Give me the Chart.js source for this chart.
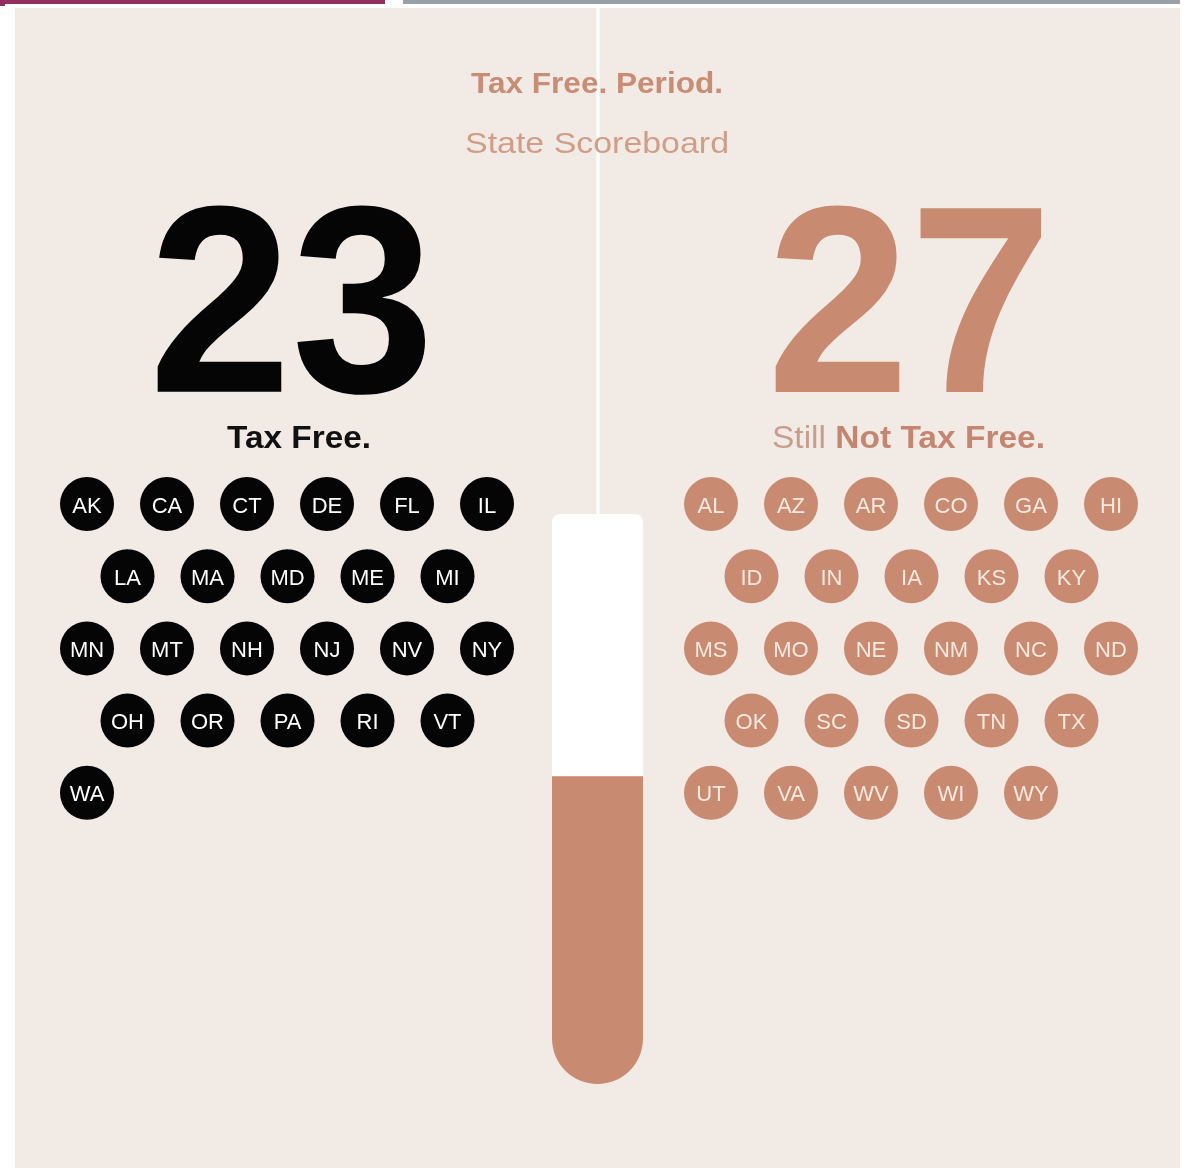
<!DOCTYPE html>
<html>
<head>
<meta charset="utf-8">
<script src="https://cdn.jsdelivr.net/npm/chart.js@4/dist/chart.umd.min.js"></script>
<style>
  html, body { margin: 0; padding: 0; background: #fff; }
  #wrap { position: relative; width: 1193px; height: 1168px; overflow: hidden; }
  .bar1 { position: absolute; left: 0; top: 0; width: 385px; height: 4px; background: #932f5f; }
  .bar1b { position: absolute; left: 0; top: 4px; width: 5px; height: 2px; background: #932f5f; }
  .bar2 { position: absolute; left: 403px; top: 0; width: 777px; height: 4px; background: #99a0a8; }
  .panel { position: absolute; left: 15px; top: 8px; width: 1165px; height: 1160px; background: #f2ebe5; }
  #main { position: absolute; left: 0; top: 0; }
  #thermo { position: absolute; left: 552px; top: 514px; }
</style>
</head>
<body>
<div id="wrap">
  <div class="bar1"></div><div class="bar1b"></div><div class="bar2"></div>
  <div class="panel"></div>
  <canvas id="main" width="1193" height="1168"></canvas>
  <canvas id="thermo" width="91" height="570"></canvas>
</div>
<script>
// data
const taxFreeStates = ['AK', 'CA', 'CT', 'DE', 'FL', 'IL', 'LA', 'MA', 'MD', 'ME', 'MI',
  'MN', 'MT', 'NH', 'NJ', 'NV', 'NY', 'OH', 'OR', 'PA', 'RI', 'VT', 'WA'];
const notTaxFreeStates = ['AL', 'AZ', 'AR', 'CO', 'GA', 'HI', 'ID', 'IN', 'IA', 'KS', 'KY',
  'MS', 'MO', 'NE', 'NM', 'NC', 'ND', 'OK', 'SC', 'SD', 'TN', 'TX', 'UT', 'VA', 'WV', 'WI', 'WY'];
const title = 'Tax Free. Period.';
const subtitle = 'State Scoreboard';
const counts = [taxFreeStates.length, notTaxFreeStates.length];

const BLACK = '#050505';
const SALMON = '#c88a70';

// rows of 6, then 5 shifted half a step
function gridPoints(states, x0) {
  const pts = [];
  let row = 0, col = 0;
  states.forEach(s => {
    const cap = row % 2 === 0 ? 6 : 5;
    const off = row % 2 === 0 ? 0 : 40.5;
    pts.push({ x: x0 + off + col * 80, y: 504 + row * 72.2, state: s });
    col++;
    if (col >= cap) { col = 0; row++; }
  });
  return pts;
}

function fitText(ctx, text, cx, baseline, width) {
  const w = ctx.measureText(text).width;
  ctx.save();
  ctx.translate(cx, baseline);
  ctx.scale(width / w, 1);
  ctx.textAlign = 'center';
  ctx.fillText(text, 0, 0);
  ctx.restore();
}

// stretch the ink of a text into a box
function fitBox(ctx, text, left, top, right, bottom) {
  ctx.save();
  ctx.textAlign = 'left';
  ctx.textBaseline = 'alphabetic';
  const m = ctx.measureText(text);
  const w = m.actualBoundingBoxLeft + m.actualBoundingBoxRight;
  const h = m.actualBoundingBoxAscent + m.actualBoundingBoxDescent;
  const sx = (right - left) / w, sy = (bottom - top) / h;
  ctx.translate(left + sx * m.actualBoundingBoxLeft, top + sy * m.actualBoundingBoxAscent);
  ctx.scale(sx, sy);
  ctx.fillText(text, 0, 0);
  ctx.restore();
}

const textPlugin = {
  id: 'scoreText',
  beforeDatasetsDraw(chart) {
    const ctx = chart.ctx;
    ctx.save();
    ctx.fillStyle = '#ffffff';
    ctx.fillRect(596.5, 8, 3, 508);
    ctx.restore();
  },
  afterDatasetsDraw(chart) {
    const ctx = chart.ctx;
    ctx.save();
    // titles
    ctx.fillStyle = '#c98c74';
    ctx.font = 'bold 30px "Liberation Sans"';
    fitText(ctx, title, 597, 93, 252);
    ctx.fillStyle = '#cf9d88';
    ctx.font = '30px "Liberation Sans"';
    fitText(ctx, subtitle, 597, 153, 264);

    // big counts
    ctx.font = 'bold 250px "Liberation Sans"';
    ctx.fillStyle = BLACK;
    fitBox(ctx, String(counts[0]), 157, 205, 425, 395);
    ctx.fillStyle = SALMON;
    fitBox(ctx, String(counts[1]), 775, 205, 1042, 393);

    // group labels
    ctx.fillStyle = '#111';
    ctx.font = 'bold 32px "Liberation Sans"';
    fitText(ctx, 'Tax Free.', 299, 448, 144);

    const a = 'Still ', b = 'Not Tax Free.';
    ctx.font = '32px "Liberation Sans"';
    const wa = ctx.measureText(a).width;
    ctx.font = 'bold 32px "Liberation Sans"';
    const wb = ctx.measureText(b).width;
    const k = 273 / (wa + wb);
    ctx.save();
    ctx.translate(772, 448);
    ctx.scale(k, 1);
    ctx.textAlign = 'left';
    ctx.font = '32px "Liberation Sans"';
    ctx.fillStyle = '#c79e8c';
    ctx.fillText(a, 0, 0);
    ctx.font = 'bold 32px "Liberation Sans"';
    ctx.fillStyle = '#c48670';
    ctx.fillText(b, wa, 0);
    ctx.restore();

    // state codes inside circles
    ctx.textAlign = 'center';
    ctx.font = '22px "Liberation Sans"';
    chart.data.datasets.forEach((ds, di) => {
      const meta = chart.getDatasetMeta(di);
      ctx.fillStyle = ds.labelColor;
      meta.data.forEach((pt, i) => {
        ctx.fillText(ds.data[i].state, pt.x, pt.y + 8.5);
      });
    });
    ctx.restore();
  }
};

new Chart(document.getElementById('main').getContext('2d'), {
  type: 'scatter',
  data: {
    datasets: [
      {
        label: 'Tax Free',
        data: gridPoints(taxFreeStates, 87),
        backgroundColor: BLACK,
        borderWidth: 0,
        pointRadius: 27,
        pointHoverRadius: 27,
        labelColor: '#ffffff'
      },
      {
        label: 'Still Not Tax Free',
        data: gridPoints(notTaxFreeStates, 711),
        backgroundColor: SALMON,
        borderWidth: 0,
        pointRadius: 27,
        pointHoverRadius: 27,
        labelColor: '#f8e9df'
      }
    ]
  },
  options: {
    responsive: false,
    animation: false,
    events: [],
    layout: { padding: 0, autoPadding: false },
    plugins: { legend: { display: false }, tooltip: { enabled: false } },
    scales: {
      x: { type: 'linear', min: 0, max: 1193, display: false },
      y: { type: 'linear', min: 0, max: 1168, reverse: true, display: false }
    }
  },
  plugins: [textPlugin]
});

// thermometer: share of states still not tax free
new Chart(document.getElementById('thermo').getContext('2d'), {
  type: 'bar',
  data: {
    labels: ['States'],
    datasets: [
      {
        label: 'Still Not Tax Free',
        data: [counts[1]],
        backgroundColor: SALMON,
        borderSkipped: false,
        borderRadius: { topLeft: 0, topRight: 0, bottomLeft: 46, bottomRight: 46 },
        inflateAmount: 0
      },
      {
        label: 'Tax Free',
        data: [counts[0]],
        backgroundColor: '#ffffff',
        borderSkipped: false,
        borderRadius: { topLeft: 8, topRight: 8, bottomLeft: 0, bottomRight: 0 },
        inflateAmount: 0
      }
    ]
  },
  options: {
    responsive: false,
    animation: false,
    events: [],
    layout: { padding: 0, autoPadding: false },
    datasets: { bar: { barPercentage: 1, categoryPercentage: 1 } },
    plugins: { legend: { display: false }, tooltip: { enabled: false } },
    scales: {
      x: { stacked: true, display: false },
      y: { stacked: true, min: 0, max: counts[0] + counts[1], display: false }
    }
  }
});
</script>
</body>
</html>
